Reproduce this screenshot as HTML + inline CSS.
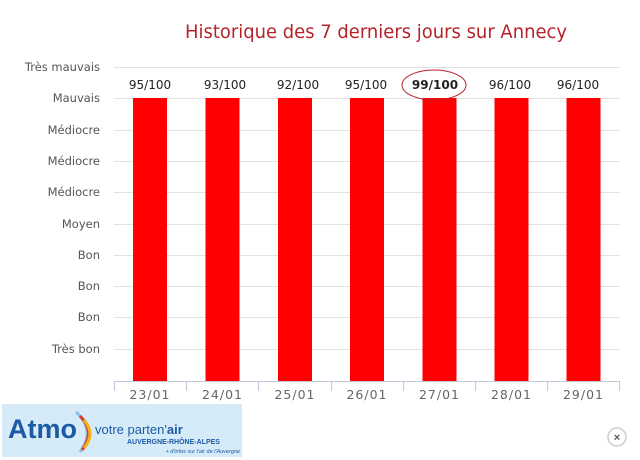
<!DOCTYPE html>
<html><head><meta charset="utf-8"><style>
body{margin:0;width:640px;height:460px;background:#fff;overflow:hidden;font-family:"Liberation Sans","DejaVu Sans",sans-serif}
</style></head><body>
<svg width="640" height="460" xmlns="http://www.w3.org/2000/svg" style="position:absolute;left:0;top:0">
<text x="185" y="38" font-size="19" fill="#b5232a" textLength="382" lengthAdjust="spacingAndGlyphs" font-family="DejaVu Sans, sans-serif">Historique des 7 derniers jours sur Annecy</text>
<g stroke="#e2e2e2" stroke-width="1">
<line x1="114" x2="620" y1="67.5" y2="67.5"/><line x1="114" x2="620" y1="98.5" y2="98.5"/>
<line x1="114" x2="620" y1="130.5" y2="130.5"/><line x1="114" x2="620" y1="161.5" y2="161.5"/>
<line x1="114" x2="620" y1="192.5" y2="192.5"/><line x1="114" x2="620" y1="224.5" y2="224.5"/>
<line x1="114" x2="620" y1="255.5" y2="255.5"/><line x1="114" x2="620" y1="286.5" y2="286.5"/>
<line x1="114" x2="620" y1="317.5" y2="317.5"/><line x1="114" x2="620" y1="349.5" y2="349.5"/>
</g>
<g font-size="11.5" fill="#555" text-anchor="end" font-family="DejaVu Sans, sans-serif">
<text x="100" y="71">Très mauvais</text><text x="100" y="102">Mauvais</text>
<text x="100" y="134">Médiocre</text><text x="100" y="165">Médiocre</text>
<text x="100" y="196">Médiocre</text><text x="100" y="228">Moyen</text>
<text x="100" y="259">Bon</text><text x="100" y="290">Bon</text>
<text x="100" y="321">Bon</text><text x="100" y="353">Très bon</text>
</g>
<g fill="#ff0000">
<rect x="133" y="98" width="34" height="283"/><rect x="205.5" y="98" width="34" height="283"/>
<rect x="278" y="98" width="34" height="283"/><rect x="350" y="98" width="34" height="283"/>
<rect x="422.5" y="98" width="34" height="283"/><rect x="494.5" y="98" width="34" height="283"/>
<rect x="566.5" y="98" width="34" height="283"/>
</g>
<g stroke="#c0c8d8" stroke-width="1">
<line x1="114" x2="620" y1="381.5" y2="381.5"/>
<line x1="114.5" x2="114.5" y1="381" y2="391"/><line x1="186.5" x2="186.5" y1="381" y2="391"/>
<line x1="258.5" x2="258.5" y1="381" y2="391"/><line x1="331.5" x2="331.5" y1="381" y2="391"/>
<line x1="403.5" x2="403.5" y1="381" y2="391"/><line x1="475.5" x2="475.5" y1="381" y2="391"/>
<line x1="547.5" x2="547.5" y1="381" y2="391"/><line x1="619.5" x2="619.5" y1="381" y2="391"/>
</g>
<g font-size="12.5" fill="#666" text-anchor="middle" font-family="DejaVu Sans, sans-serif" letter-spacing="1">
<text x="150" y="399">23/01</text><text x="222.5" y="399">24/01</text><text x="295" y="399">25/01</text>
<text x="367" y="399">26/01</text><text x="439.5" y="399">27/01</text><text x="511.5" y="399">28/01</text>
<text x="583.5" y="399">29/01</text>
</g>
<g font-size="12" fill="#222" text-anchor="middle" font-family="DejaVu Sans, sans-serif">
<text x="150" y="89">95/100</text><text x="225" y="89">93/100</text><text x="298" y="89">92/100</text>
<text x="366" y="89">95/100</text><text x="435" y="89" font-weight="bold">99/100</text>
<text x="510" y="89">96/100</text><text x="578" y="89">96/100</text>
</g>
<ellipse cx="434" cy="85" rx="32" ry="15" fill="none" stroke="#b5232a" stroke-width="1"/>
<rect x="2" y="404" width="240" height="53" fill="#d6ebf8"/>
<text x="8" y="438" font-size="27" font-weight="bold" fill="#1d5aa6">Atmo</text>
<path d="M76 412 Q96 430 80 452" stroke="#8fc1e8" stroke-width="3" fill="none"/>
<path d="M80 416 Q96 432 82 450" stroke="#e23a2a" stroke-width="3" fill="none"/>
<path d="M84 420 Q96 434 84 448" stroke="#f2b21b" stroke-width="3" fill="none"/>
<text x="95" y="434" font-size="13" fill="#1d5aa6">votre parten'<tspan font-weight="bold">air</tspan></text>
<text x="127" y="444" font-size="7" font-weight="bold" fill="#1d5aa6">AUVERGNE-RHÔNE-ALPES</text>
<text x="240" y="453" font-size="5.5" fill="#1d5aa6" text-anchor="end" font-style="italic">+ d'infos sur l'air de l'Auvergne</text>
<circle cx="617" cy="437" r="9" fill="#fff" stroke="#ccc" stroke-width="1.5"/>
<text x="617" y="441" font-size="11" font-weight="bold" fill="#555" text-anchor="middle">×</text>
</svg>
</body></html>
